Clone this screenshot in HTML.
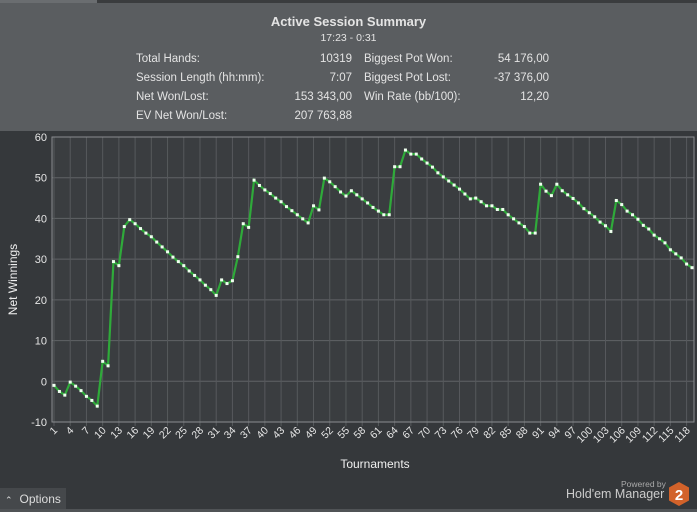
<!DOCTYPE html>
<html><head><meta charset="utf-8"><style>
body{margin:0;width:697px;height:512px;background:#35383b;overflow:hidden;font-family:"Liberation Sans","DejaVu Sans",sans-serif;position:relative}
#hdr{position:absolute;left:0;top:0;width:697px;height:131px;background:#5a5d60;border-top:3px solid #3a3c3e;box-sizing:border-box}
#tab{position:absolute;left:0;top:0;width:97px;height:3px;background:#6a6d70}
.t{position:absolute;color:#e4e4e4;font-size:11.5px;white-space:nowrap}
.r{text-align:right}
#opt{position:absolute;left:0;top:488px;width:66px;height:22px;background:#45484b;color:#ddd;font-size:12px;line-height:22px}
#bl{position:absolute;left:0;top:509px;width:697px;height:3px;background:#505356}
</style></head><body>
<div id="hdr"></div>
<div id="tab"></div>
<div class="t" style="left:0;width:697px;text-align:center;top:14px;font-size:13px;font-weight:bold">Active Session Summary</div>
<div class="t" style="left:0;width:697px;text-align:center;top:32px;font-size:10.5px">17:23 - 0:31</div>
<div class="t" style="left:136px;top:53px">Total Hands:</div>
<div class="t r" style="left:250px;width:102px;top:53px">10319</div>
<div class="t" style="left:136px;top:72px">Session Length (hh:mm):</div>
<div class="t r" style="left:250px;width:102px;top:72px">7:07</div>
<div class="t" style="left:136px;top:91px">Net Won/Lost:</div>
<div class="t r" style="left:250px;width:102px;top:91px">153 343,00</div>
<div class="t" style="left:136px;top:110px">EV Net Won/Lost:</div>
<div class="t r" style="left:250px;width:102px;top:110px">207 763,88</div>
<div class="t" style="left:364px;top:53px">Biggest Pot Won:</div>
<div class="t r" style="left:450px;width:99px;top:53px">54 176,00</div>
<div class="t" style="left:364px;top:72px">Biggest Pot Lost:</div>
<div class="t r" style="left:450px;width:99px;top:72px">-37 376,00</div>
<div class="t" style="left:364px;top:91px">Win Rate (bb/100):</div>
<div class="t r" style="left:450px;width:99px;top:91px">12,20</div>

<svg id="chart" width="697" height="512" style="position:absolute;left:0;top:0"></svg>

<div id="opt"><span style="font-size:9px;margin:0 7px 0 5px">&#8963;</span>Options</div>
<div class="t" style="left:621px;top:479px;font-size:8.5px;color:#aaa">Powered by</div>
<div class="t" style="left:566px;top:487px;font-size:12.5px;color:#ccc">Hold'em Manager</div>
<svg style="position:absolute;left:668px;top:482px" width="22" height="24"><polygon points="11,0 21,5.5 21,18.5 11,24 1,18.5 1,5.5" fill="#d2622a"/><text x="11" y="18" text-anchor="middle" fill="#fff" font-size="15" font-weight="bold" font-family="Liberation Sans">2</text></svg>
<div id="bl"></div>

<script>
const values=[-1.0,-2.5,-3.4,-0.2,-1.2,-2.3,-3.7,-4.7,-6.1,4.9,3.8,29.4,28.4,38.0,39.7,38.7,37.5,36.4,35.5,34.2,33.0,31.8,30.5,29.4,28.4,27.1,26.0,24.9,23.6,22.5,21.1,24.9,24.0,24.7,30.6,38.7,37.8,49.4,48.1,47.0,46.1,45.0,44.1,42.9,41.9,40.9,39.9,38.9,43.1,42.1,49.9,49.0,47.8,46.5,45.5,46.8,45.8,44.8,43.8,42.7,41.8,40.9,40.9,52.7,52.7,56.8,55.8,55.8,54.6,53.6,52.6,51.2,50.2,49.2,48.2,47.2,46.0,44.8,45.0,44.1,43.1,43.1,42.2,42.2,40.9,39.9,38.9,38.0,36.4,36.4,48.4,46.7,45.6,48.4,46.8,45.8,44.9,43.8,42.4,41.4,40.4,39.1,38.2,36.8,44.4,43.4,41.8,40.9,39.8,38.3,37.4,35.9,35.0,34.0,32.3,31.3,30.3,28.8,27.9];
const yTicks=[-10,0,10,20,30,40,50,60];
const xTickStep=3;
const NS='http://www.w3.org/2000/svg';
const svg=document.getElementById('chart');
const L=52,R=694,T=137,B=422,ymin=-10,ymax=60;
const x0=54,dx=(692-54)/(values.length-1);
const X=i=>x0+i*dx;
const Y=v=>B-(v-ymin)/(ymax-ymin)*(B-T);
function mk(t,a){const e=document.createElementNS(NS,t);for(const k in a)e.setAttribute(k,a[k]);svg.appendChild(e);return e;}
let bg=mk('rect',{x:L,y:T,width:R-L,height:B-T,fill:'#3a3d40'});


yTicks.forEach(v=>{
 let g=mk('line',{x1:L,x2:R,y1:Y(v),y2:Y(v),stroke:'#606366','stroke-width':1});
 
 
 let t=mk('text',{x:47,y:Y(v)+4,'text-anchor':'end',fill:'#e6e6e6','font-size':11,'font-family':'Liberation Sans'});
 t.textContent=v;
 
 
});
for(let i=0;i<values.length;i+=xTickStep){
 let g=mk('line',{x1:X(i),x2:X(i),y1:T,y2:B+4,stroke:'#56595c','stroke-width':1});
 
 
 let t=mk('text',{x:0,y:0,'text-anchor':'end',fill:'#e6e6e6','font-size':10.5,'font-family':'Liberation Sans',transform:`translate(${X(i)+4},${B+9}) rotate(-45)`});
 t.textContent=i+1;
 
 
}
let bd=mk('rect',{x:L,y:T,width:R-L,height:B-T,fill:'none',stroke:'#8a8d90','stroke-width':1});


let ln=mk('polyline',{points:values.map((v,i)=>X(i)+','+Y(v)).join(' '),fill:'none',stroke:'#2faa3a','stroke-width':2.2});


values.forEach((v,i)=>{
 let p=mk('rect',{x:X(i)-1.5,y:Y(v)-1.5,width:3,height:3,fill:'#f0fff0'});
 
 
});
let yt=mk('text',{x:0,y:0,'text-anchor':'middle',fill:'#f0f0f0','font-size':12,'font-family':'Liberation Sans',transform:`translate(17,${(T+B)/2}) rotate(-90)`});
yt.textContent='Net Winnings';


let xt=mk('text',{x:375,y:468,'text-anchor':'middle',fill:'#f0f0f0','font-size':12,'font-family':'Liberation Sans'});
xt.textContent='Tournaments';


</script>
</body></html>
